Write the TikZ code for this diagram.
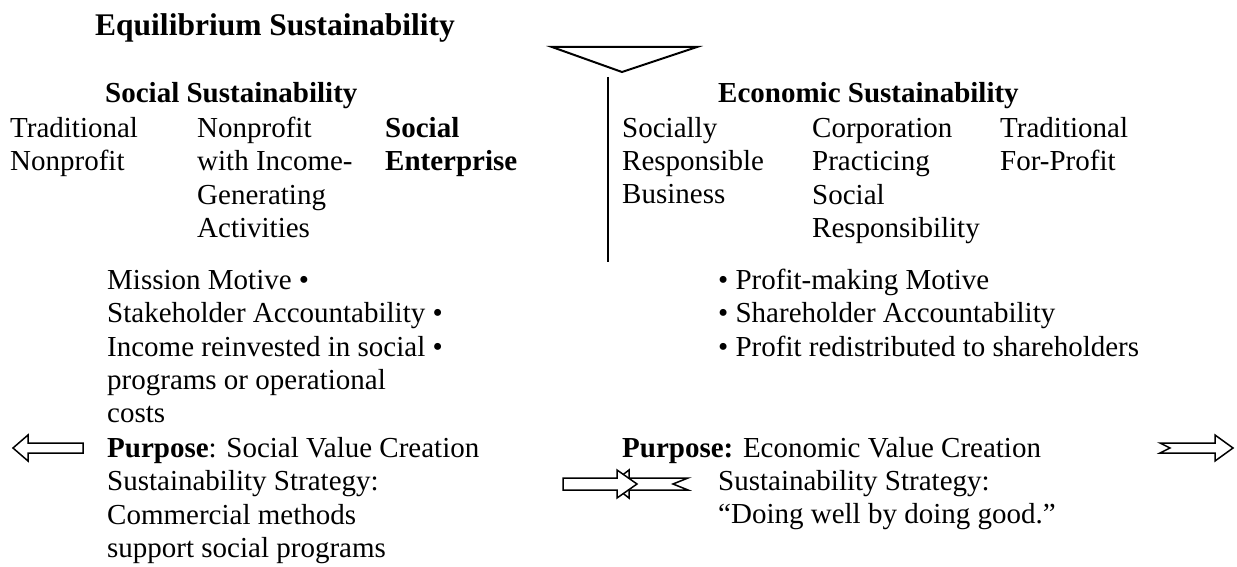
\documentclass[tikz,border=0pt]{standalone}
\usepackage{fontspec}
\setmainfont{Liberation Serif}
\usetikzlibrary{positioning}
\newcommand{\Bl}{\textbullet}

\begin{document}
\begin{tikzpicture}[x=1pt,y=-1pt,
  txt/.style={anchor=north west, yshift=23.38pt, inner sep=0pt, align=left,
    font=\fontsize{29}{33.4}\selectfont},
  hd/.style={txt, font=\fontsize{29}{33.4}\selectfont\bfseries},
  blockarrow/.style={draw, line width=1.5pt, fill=white, line join=miter}]
  \useasboundingbox (0,0) rectangle (1237,567);
  % headings
  \node[hd, font=\fontsize{31.5}{36}\selectfont\bfseries] (title) at (95,33) {\strut Equilibrium Sustainability};
  \draw[line width=2pt, line join=miter] (552,47) -- (697,47) -- (622,72) -- cycle;
  \coordinate (septop) at (608,77);
  \coordinate (sepbot) at (608,262);
  \draw[line width=2.4pt] (septop) -- (sepbot);
  \node[hd] (socsus) at (105,102) {\strut Social Sustainability};
  \node[hd] (ecosus) at (718,102) {\strut Economic Sustainability};
  % spectrum
  \node[txt] (tradnp) at (10,137) {\strut Traditional\\Nonprofit};
  \node[txt] (npinc) at (197,137) {\strut Nonprofit\\with Income-\\Generating\\Activities};
  \node[hd] (socent) at (385,137) {\strut Social\\Enterprise};
  \node[txt] (srbus) at (622,137) {\strut Socially\\Responsible\\Business};
  \node[txt] (corpsr) at (812,137) {\strut Corporation\\Practicing\\Social\\Responsibility};
  \node[txt] (tradfp) at (1000,137) {\strut Traditional\\For-Profit};
  % motives
  \node[txt] (socmot) at (107,289) {\strut Mission Motive \Bl\\Stakeholder Accountability \Bl\\Income reinvested in social \Bl\\programs or operational\\costs};
  \node[txt] (ecomot) at (718,289) {\strut\Bl{} Profit-making Motive\\\Bl{} Shareholder Accountability\\\Bl{} Profit redistributed to shareholders};
  % purposes
  \node[txt] (socpur) at (107,457) {\strut\textbf{Purpose}: Social Value Creation\\Sustainability Strategy:\\Commercial methods\\support social programs};
  \node[txt] (ecopur) at (622,457) {\strut\textbf{Purpose:} Economic Value Creation};
  \node[txt] (ecostr) at (718,490) {\strut Sustainability Strategy:\\“Doing well by doing good.”};
  % arrows
  \draw[blockarrow] (83,443) -- (28,443) -- (28,435) -- (13,448) -- (28,461) -- (28,453) -- (83,453) -- cycle;
  \draw[blockarrow] (1160,443) -- (1215,443) -- (1215,435) -- (1233,448) -- (1215,461) -- (1215,453) -- (1160,453) -- (1170,448) -- cycle;
  \draw[blockarrow] (688,478) -- (629,478) -- (629,470) -- (611,484) -- (629,498) -- (629,490) -- (688,490) -- (673,484) -- cycle;
  \draw[blockarrow] (563,478) -- (617,478) -- (617,470) -- (637,484) -- (617,498) -- (617,490) -- (563,490) -- cycle;
\end{tikzpicture}
\end{document}
